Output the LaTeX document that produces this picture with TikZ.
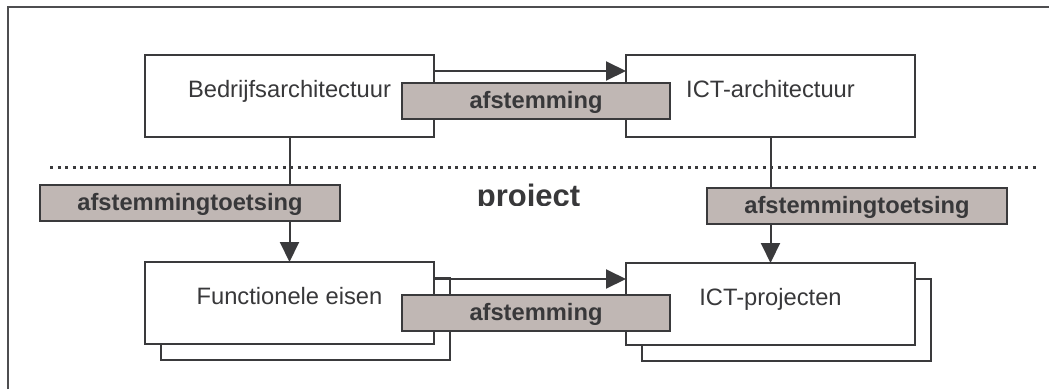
\documentclass[tikz,border=0pt]{standalone}
\usepackage{fontspec}
\setmainfont{Liberation Sans}
\usetikzlibrary{arrows.meta,shadows}
\definecolor{linec}{HTML}{3A3A3C}
\definecolor{textc}{HTML}{38383A}
\definecolor{grayfill}{HTML}{C0B7B4}
\tikzset{
  bigbox/.style={draw=linec, line width=2pt, fill=white, rectangle, inner sep=0pt, outer sep=0pt,
    text height=42pt, text depth=40pt, minimum width=289pt, anchor=north west,
    text=textc, font=\fontsize{23.7}{28}\selectfont},
  shadowed/.style={general shadow={shadow xshift=16pt, shadow yshift=-16pt, draw=linec, fill=white, line width=2pt}},
  graybox/.style={draw=linec, line width=2pt, fill=grayfill, rectangle, inner sep=0pt, outer sep=0pt,
    text height=25pt, text depth=11pt, anchor=north west,
    text=textc, font=\fontsize{23.7}{28}\selectfont\bfseries},
  conn/.style={draw=linec, line width=2pt},
  arr/.style={conn, -{Triangle[length=20pt, width=19pt]}},
  frameline/.style={draw=linec!90, line width=2pt},
  sepline/.style={draw=linec, line width=3pt, dash pattern=on 3.3pt off 4.2pt}
}
\begin{document}
\begin{tikzpicture}[x=1pt, y=-1pt]
\useasboundingbox (0,0) rectangle (1049,389);
% outer frame
\draw[frameline] (8,389) -- (8,7) -- (1049,7);
% dotted separator
\draw[sepline] (50,167) -- (1037,167);
% project label (bottom clipped)
\begin{scope}
  \clip (440,150) rectangle (620,205);
  \node[anchor=base, inner sep=0pt, text=textc, font=\fontsize{31}{36}\selectfont\bfseries] (proj) at (528.5,206) {project};
\end{scope}
% main boxes
\node[bigbox] (B) at (145,55) {Bedrijfsarchitectuur};
\node[bigbox] (I) at (626,55) {ICT-architectuur};
\node[bigbox, shadowed] (F) at (145,262) {Functionele eisen};
\node[bigbox, shadowed] (P) at (626,263) {ICT-projecten};
% toetsing boxes
\node[graybox, minimum width=300pt] (T1) at (40,185) {afstemmingtoetsing};
\node[graybox, minimum width=300pt] (T2) at (707,188) {afstemmingtoetsing};
% vertical connectors
\draw[conn] (B.south) -- (B.south |- T1.north);
\draw[arr] (F.north |- T1.south) -- (F.north);
\draw[conn] (I.south) -- (I.south |- T2.north);
\draw[arr] (P.north |- T2.south) -- (P.north);
% horizontal arrows
\coordinate (a1) at ([yshift=-16pt]B.north east);
\draw[arr] (a1) -- (a1 -| I.west);
\coordinate (a2) at ([yshift=-17pt]F.north east);
\draw[arr] (a2) -- (a2 -| P.west);
% afstemming boxes
\node[graybox, minimum width=268pt] (A1) at (402,83) {afstemming};
\node[graybox, minimum width=268pt] (A2) at (402,295) {afstemming};
\end{tikzpicture}
\end{document}
